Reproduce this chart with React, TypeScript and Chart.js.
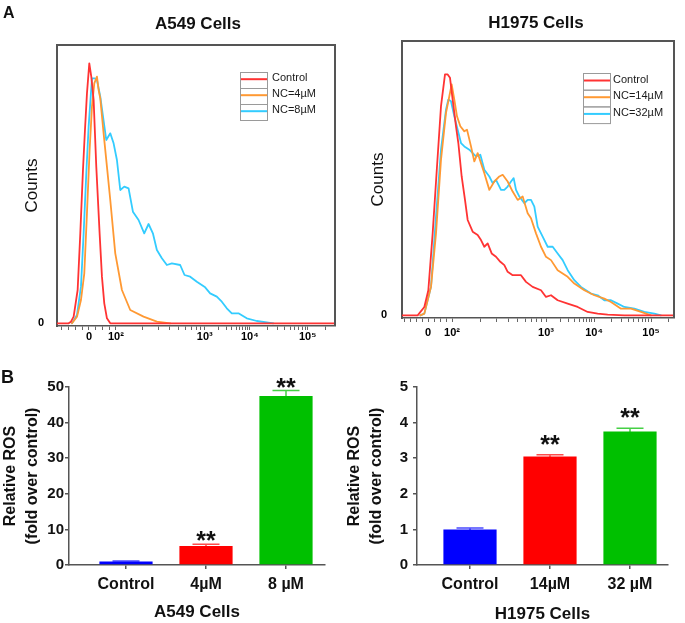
import React, { useEffect, useRef } from 'react';
import { Chart, registerables } from 'chart.js';

Chart.register(...registerables);

const FONT = "'Liberation Sans', Arial, Helvetica, sans-serif";

// ---------------- Panel A: flow cytometry histograms ----------------
const a549Labels = ['Control', 'NC=4µM', 'NC=8µM'];
const h1975Labels = ['Control', 'NC=14µM', 'NC=32µM'];
const histColors = ['#ff3333', '#ff9933', '#33ccff'];

const histTickLabels = ['0', '10²', '10³', '10⁴', '10⁵'];
const a549TickValues = [96, 177, 444, 579, 753];
const h1975TickValues = [78, 150, 432, 576, 747];

// [channel, counts]
const a549Control = [[0, 0], [35, 0], [42, 5], [50, 20], [62, 100], [70, 270], [78, 460], [84, 580], [90, 690], [97, 780], [103, 740], [110, 670], [118, 470], [128, 270], [135, 140], [142, 60], [150, 15], [160, 0], [835, 0]];
const a549Nc4 = [[45, 0], [60, 20], [72, 70], [82, 150], [90, 330], [98, 520], [105, 650], [112, 720], [120, 740], [125, 700], [130, 675], [140, 570], [150, 470], [160, 370], [175, 210], [195, 100], [220, 40], [260, 20], [300, 5], [340, 0]];
const a549Nc8 = [[45, 0], [60, 25], [72, 110], [80, 270], [88, 450], [95, 590], [105, 735], [113, 735], [120, 730], [130, 680], [148, 550], [160, 570], [170, 540], [180, 490], [190, 400], [202, 410], [215, 405], [228, 335], [245, 310], [262, 270], [275, 298], [288, 270], [300, 220], [315, 195], [330, 175], [345, 180], [370, 175], [383, 145], [400, 140], [420, 125], [445, 108], [460, 90], [480, 80], [495, 65], [510, 45], [525, 30], [545, 30], [570, 15], [600, 7], [650, 0]];

const h1975Control = [[0, 0], [47, 0], [67, 25], [79, 75], [92, 245], [105, 445], [117, 625], [129, 720], [137, 720], [144, 710], [152, 645], [162, 565], [169, 515], [179, 415], [189, 345], [197, 285], [212, 250], [227, 240], [237, 225], [247, 205], [257, 215], [269, 185], [282, 175], [295, 160], [307, 150], [317, 130], [332, 120], [357, 120], [372, 100], [392, 85], [417, 75], [432, 55], [447, 60], [467, 45], [497, 35], [527, 25], [557, 10], [587, 5], [617, 2], [667, 0], [816, 0]];
const h1975Nc14 = [[55, 0], [67, 5], [87, 85], [102, 245], [117, 465], [132, 605], [142, 655], [149, 690], [157, 645], [165, 595], [175, 565], [187, 550], [195, 555], [207, 505], [217, 460], [227, 485], [237, 455], [247, 425], [262, 375], [277, 400], [292, 415], [302, 420], [317, 400], [332, 370], [347, 345], [362, 355], [377, 305], [387, 290], [402, 245], [417, 205], [432, 175], [447, 165], [467, 135], [482, 125], [497, 115], [517, 95], [547, 75], [577, 60], [607, 50], [627, 40], [657, 20], [687, 20], [717, 10], [747, 0]];
const h1975Nc32 = [[55, 0], [67, 5], [87, 85], [102, 295], [117, 495], [132, 615], [139, 645], [147, 640], [157, 595], [167, 555], [177, 515], [187, 505], [202, 495], [212, 485], [222, 475], [235, 480], [247, 435], [262, 415], [272, 395], [282, 405], [297, 375], [307, 375], [317, 385], [327, 400], [335, 410], [342, 375], [352, 355], [367, 335], [377, 345], [387, 345], [397, 325], [407, 265], [422, 235], [437, 205], [452, 205], [467, 185], [482, 165], [497, 135], [517, 105], [537, 85], [567, 65], [587, 60], [607, 45], [627, 45], [647, 35], [667, 25], [697, 20], [727, 10], [757, 5], [777, 0]];

// ---------------- Panel B: relative ROS bars ----------------
const a549Categories = ['Control', '4µM', '8 µM'];
const a549Ros = [1.0, 5.35, 47.5];
const a549RosErr = [0.1, 0.45, 1.5];
const a549Sig = ['', '**', '**'];

const h1975Categories = ['Control', '14µM', '32 µM'];
const h1975Ros = [1.0, 3.05, 3.75];
const h1975RosErr = [0.04, 0.05, 0.09];
const h1975Sig = ['', '**', '**'];

const barColors = ['#0000ff', '#ff0000', '#00c000'];
const capColors = ['#4a4aff', '#ff4a4a', '#45d045'];

function minorTicks(majors: number[], xMax: number): number[] {
  const [z, d2, d3, d4, d5] = majors;
  const vals = new Set<number>(majors);
  const step = (d2 - z) / 4;
  for (let v = z - step; v > 2; v -= step) vals.add(v);
  for (let k = 1; k < 4; k++) vals.add(z + k * step);
  const decades = [[d2, d3], [d3, d4], [d4, d5]];
  for (const [a, b] of decades) for (let k = 2; k <= 9; k++) vals.add(a + (b - a) * Math.log10(k));
  for (let k = 2; k <= 9; k++) {
    const v = d5 + (d5 - d4) * Math.log10(k);
    if (v < xMax - 2) vals.add(v);
  }
  return Array.from(vals).sort((a, b) => a - b);
}

function histConfig(p: any) {
  const ticks = minorTicks(p.majors, p.xMax);
  const framePlugin = {
    id: 'frame',
    afterDatasetsDraw(chart: any) {
      const { ctx } = chart;
      const { left, top, right, bottom } = chart.chartArea;
      ctx.save();
      ctx.strokeStyle = '#555';
      ctx.lineWidth = 2;
      ctx.beginPath();
      ctx.moveTo(left, top);
      ctx.lineTo(right, top);
      ctx.lineTo(right, bottom);
      ctx.stroke();
      ctx.restore();
    },
  };
  const legendPlugin = {
    id: 'boxLegend',
    afterDraw(chart: any) {
      const { ctx } = chart;
      const lg = p.legend;
      chart.data.datasets.forEach((ds: any, i: number) => {
        const top = lg.y + i * lg.rowH;
        ctx.save();
        ctx.strokeStyle = '#9a9a9a';
        ctx.lineWidth = 1;
        ctx.strokeRect(lg.x + 0.5, top + 0.5, lg.w, lg.rowH);
        ctx.strokeStyle = ds.borderColor;
        ctx.lineWidth = 2;
        ctx.beginPath();
        ctx.moveTo(lg.x + 1, top + lg.rowH * 0.45);
        ctx.lineTo(lg.x + lg.w, top + lg.rowH * 0.45);
        ctx.stroke();
        ctx.fillStyle = '#1a1a1a';
        ctx.font = `11px ${FONT}`;
        ctx.textBaseline = 'middle';
        ctx.textAlign = 'left';
        ctx.fillText(ds.label, lg.textX, top + lg.rowH * 0.4);
        ctx.restore();
      });
    },
  };
  return {
    type: 'line',
    data: {
      datasets: p.series.map((s: number[][], i: number) => ({
        label: p.labels[i],
        data: s.map(([x, y]) => ({ x, y })),
        borderColor: histColors[i],
        borderWidth: 1.8,
        borderJoinStyle: 'round',
        borderCapStyle: 'round',
        pointRadius: 0,
        tension: 0,
        fill: false,
      })),
    },
    options: {
      animation: false,
      responsive: false,
      maintainAspectRatio: false,
      layout: { padding: { left: 0, top: p.padTop, right: p.padRight, bottom: 0 } },
      plugins: { legend: { display: false }, tooltip: { enabled: false } },
      scales: {
        x: {
          type: 'linear',
          min: 0,
          max: p.xMax,
          afterFit: (s: any) => { s.height = p.xH; },
          afterBuildTicks: (s: any) => { s.ticks = ticks.map((v) => ({ value: v })); },
          ticks: {
            autoSkip: false,
            maxRotation: 0,
            minRotation: 0,
            padding: p.xTickPad,
            color: '#000',
            font: { family: FONT, size: 11, weight: 'bold' },
            callback: (v: number) => {
              const idx = p.majors.indexOf(v);
              return idx >= 0 ? histTickLabels[idx] : '';
            },
          },
          grid: { display: true, drawOnChartArea: false, drawTicks: true, tickLength: 4, color: '#666', lineWidth: 1 },
          border: { display: true, color: '#555', width: 1.5 },
        },
        y: {
          type: 'linear',
          min: -8,
          max: p.yMax,
          afterFit: (s: any) => { s.width = p.yW; },
          afterBuildTicks: (s: any) => { s.ticks = [{ value: 0 }]; },
          ticks: {
            padding: p.yTickPad,
            color: '#000',
            font: { family: FONT, size: 11, weight: 'bold' },
            callback: () => '0',
          },
          grid: { display: true, drawOnChartArea: false, drawTicks: false, color: 'rgba(0,0,0,0)' },
          border: { display: true, color: '#555', width: 2 },
          title: {
            display: true,
            text: 'Counts',
            color: '#111',
            font: { family: FONT, size: 17 },
            padding: { top: p.yTitlePad, bottom: 0 },
          },
        },
      },
    },
    plugins: [framePlugin, legendPlugin],
  };
}

function barConfig(p: any) {
  const errPlugin = {
    id: 'errorBars',
    beforeDatasetsDraw(chart: any) {
      const { ctx } = chart;
      const y = chart.scales.y;
      const meta = chart.getDatasetMeta(0);
      ctx.save();
      meta.data.forEach((el: any, i: number) => {
        const v = p.values[i];
        const e = p.errors[i];
        const yt = y.getPixelForValue(v + e);
        const yb = y.getPixelForValue(v - e);
        ctx.strokeStyle = capColors[i];
        ctx.lineWidth = 1.5;
        ctx.beginPath();
        ctx.moveTo(el.x, yb);
        ctx.lineTo(el.x, yt);
        ctx.moveTo(el.x - 13.5, yt);
        ctx.lineTo(el.x + 13.5, yt);
        ctx.stroke();
      });
      ctx.restore();
    },
    afterDatasetsDraw(chart: any) {
      const { ctx } = chart;
      const y = chart.scales.y;
      const meta = chart.getDatasetMeta(0);
      ctx.save();
      ctx.fillStyle = '#111';
      ctx.font = `bold 25px ${FONT}`;
      ctx.textAlign = 'center';
      ctx.textBaseline = 'alphabetic';
      meta.data.forEach((el: any, i: number) => {
        if (!p.sig[i]) return;
        const yt = y.getPixelForValue(p.values[i] + p.errors[i]);
        ctx.fillText(p.sig[i], el.x, yt + p.starOffset);
      });
      ctx.restore();
    },
  };
  return {
    type: 'bar',
    data: {
      datasets: [
        {
          data: p.values.map((v: number, i: number) => ({ x: i, y: v })),
          backgroundColor: barColors,
          borderWidth: 0,
          barPercentage: 0.665,
          categoryPercentage: 1,
        },
      ],
    },
    options: {
      animation: false,
      responsive: false,
      maintainAspectRatio: false,
      layout: { padding: { left: 0, top: 17, right: p.padRight, bottom: 0 } },
      plugins: { legend: { display: false }, tooltip: { enabled: false } },
      scales: {
        x: {
          type: 'linear',
          min: p.xMin,
          max: p.xMax,
          offset: false,
          afterFit: (s: any) => { s.height = 58; },
          afterBuildTicks: (s: any) => { s.ticks = p.categories.map((_: string, i: number) => ({ value: i })); },
          ticks: {
            autoSkip: false,
            maxRotation: 0,
            minRotation: 0,
            padding: 6,
            color: '#111',
            font: { family: FONT, size: 16, weight: 'bold' },
            callback: (v: number) => p.categories[v] ?? '',
          },
          grid: { display: true, offset: false, drawOnChartArea: false, drawTicks: true, tickLength: 4, color: '#555', lineWidth: 1.5 },
          border: { display: true, color: '#555', width: 1.5 },
          title: {
            display: true,
            text: p.xTitle,
            color: '#111',
            font: { family: FONT, size: 17, weight: 'bold', lineHeight: 1 },
            padding: { top: 0, bottom: p.xTitlePad },
          },
        },
        y: {
          type: 'linear',
          min: 0,
          max: p.yMax,
          afterFit: (s: any) => { s.width = p.yW; },
          ticks: {
            stepSize: p.yStep,
            padding: p.yTickPad,
            color: '#111',
            font: { family: FONT, size: 15, weight: 'bold' },
          },
          grid: { display: true, drawOnChartArea: false, drawTicks: true, tickLength: 4, color: '#555', lineWidth: 1.5 },
          border: { display: true, color: '#555', width: 1.5 },
          title: {
            display: true,
            text: ['Relative ROS', '(fold over control)'],
            color: '#111',
            font: { family: FONT, size: 16, weight: 'bold', lineHeight: 1.375 },
            padding: { top: p.yTitlePad, bottom: 0 },
          },
        },
      },
    },
    plugins: [errPlugin],
  };
}

function ChartCanvas(props: { left: number; top: number; width: number; height: number; make: () => any }) {
  const ref = useRef<HTMLCanvasElement>(null);
  useEffect(() => {
    const chart = new Chart(ref.current as HTMLCanvasElement, props.make());
    return () => chart.destroy();
  }, []);
  return (
    <canvas
      ref={ref}
      width={props.width}
      height={props.height}
      style={{ position: 'absolute', left: props.left, top: props.top, width: props.width, height: props.height }}
    />
  );
}

const textStyle = (left: number, top: number, size: number, width?: number): React.CSSProperties => ({
  position: 'absolute',
  left,
  top,
  width,
  fontFamily: FONT,
  fontWeight: 'bold',
  fontSize: size,
  lineHeight: `${size}px`,
  textAlign: width ? 'center' : 'left',
  color: '#111',
  whiteSpace: 'nowrap',
});

export default function App() {
  return (
    <div style={{ position: 'absolute', left: 0, top: 0, width: 685, height: 623, background: '#fff', overflow: 'hidden' }}>
      <ChartCanvas
        left={0}
        top={0}
        width={342}
        height={350}
        make={() =>
          histConfig({
            labels: a549Labels,
            series: [a549Control, a549Nc4, a549Nc8],
            majors: a549TickValues,
            xMax: 835,
            yMax: 835,
            padTop: 45,
            padRight: 7,
            yW: 57,
            xH: 24,
            xTickPad: 0,
            yTickPad: 13,
            yTitlePad: 21.8,
            legend: { x: 240, y: 72, w: 27, rowH: 16, textX: 272 },
          })
        }
      />
      <ChartCanvas
        left={342}
        top={0}
        width={343}
        height={350}
        make={() =>
          histConfig({
            labels: h1975Labels,
            series: [h1975Control, h1975Nc14, h1975Nc32],
            majors: h1975TickValues,
            xMax: 816,
            yMax: 820,
            padTop: 41,
            padRight: 11,
            yW: 60,
            xH: 32,
            xTickPad: 4,
            yTickPad: 15,
            yTitlePad: 25.8,
            legend: { x: 241, y: 73, w: 27, rowH: 16.7, textX: 271 },
          })
        }
      />
      <ChartCanvas
        left={0}
        top={370}
        width={340}
        height={253}
        make={() =>
          barConfig({
            categories: a549Categories,
            values: a549Ros,
            errors: a549RosErr,
            sig: a549Sig,
            xMin: -0.7125,
            xMax: 2.4875,
            yMax: 50,
            yStep: 10,
            yW: 69,
            padRight: 15,
            yTickPad: 1,
            yTitlePad: 0,
            xTitle: 'A549 Cells',
            xTitlePad: 2.5,
            starOffset: 5,
          })
        }
      />
      <ChartCanvas
        left={340}
        top={370}
        width={345}
        height={253}
        make={() =>
          barConfig({
            categories: h1975Categories,
            values: h1975Ros,
            errors: h1975RosErr,
            sig: h1975Sig,
            xMin: -0.6625,
            xMax: 2.475,
            yMax: 5,
            yStep: 1,
            yW: 77,
            padRight: 17,
            yTickPad: 5,
            yTitlePad: 4,
            xTitle: 'H1975 Cells',
            xTitlePad: 0,
            starOffset: -2,
          })
        }
      />
      <div style={textStyle(3, 5, 16)}>A</div>
      <div style={textStyle(1, 368, 18)}>B</div>
      <div style={textStyle(98, 15, 17, 200)}>A549 Cells</div>
      <div style={textStyle(436, 14, 17, 200)}>H1975 Cells</div>
    </div>
  );
}
